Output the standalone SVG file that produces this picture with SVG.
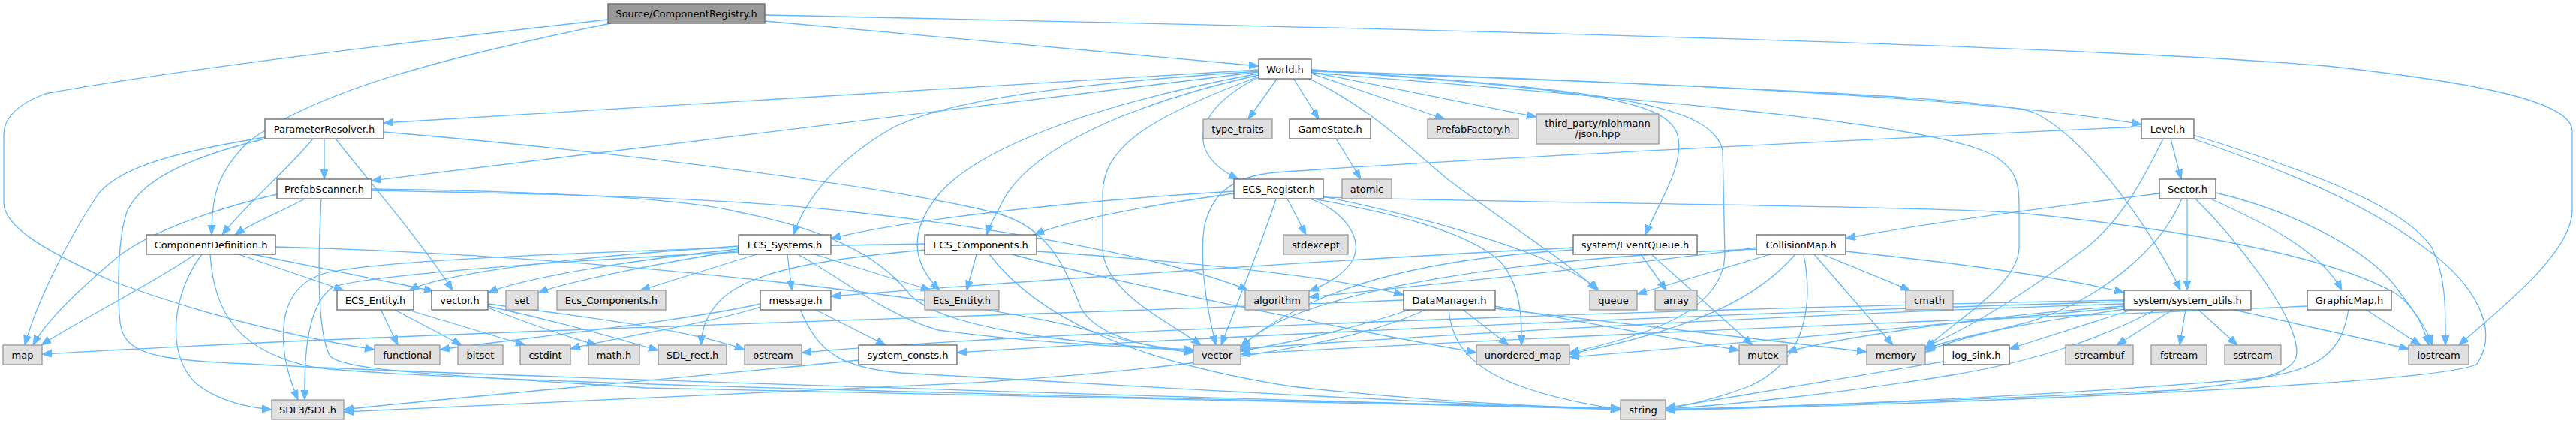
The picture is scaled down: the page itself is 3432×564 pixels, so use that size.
<svg xmlns="http://www.w3.org/2000/svg" width="3432" height="564" viewBox="0 0 3432 564">
<style>
.n rect{fill:#ffffff;stroke:#666666;stroke-width:1.3}
.g rect{fill:#e0e0e0;stroke:#999999;stroke-width:1.3}
.r rect{fill:#999999;stroke:#666666;stroke-width:1.3}
text{font-family:"DejaVu Sans","Liberation Sans",sans-serif;font-size:13px;fill:#000000;text-anchor:middle}
.e path{fill:none;stroke:#63b8ff;stroke-width:1.3;marker-end:url(#ah)}
</style>
<defs>
<marker id="ah" markerUnits="userSpaceOnUse" markerWidth="14" markerHeight="12" refX="13" refY="5" orient="auto">
<path d="M0,0 L13,5 L0,10 z" fill="#63b8ff" stroke="#63b8ff" stroke-width="1"/>
</marker>
</defs>
<rect x="0" y="0" width="3432" height="564" fill="#ffffff"/>
<g id="edges" class="e">
<path d="M1019,28 L1677,88"/>
<path d="M1019,20 C1500,30 2700,55 3100,88 C3300,110 3427,135 3427,175 L3427,280 C3427,340 3320,420 3276,460"/>
<path d="M810,26 C600,50 250,90 60,125 C20,140 5,160 5,180 L5,270 C5,300 50,330 150,375 C300,430 430,455 499,466"/>
<path d="M814,31 C600,75 420,120 330,190 C290,230 282,260 282,313"/>
<path d="M1677,93 L511,164"/>
<path d="M1677,96 L495,241"/>
<path d="M1677,95 C1450,110 1270,130 1190,170 C1120,210 1075,260 1057,313"/>
<path d="M1677,98 C1450,140 1300,200 1250,260 C1210,310 1215,350 1252,387"/>
<path d="M1677,100 C1500,140 1370,200 1335,270 C1325,290 1318,300 1315,313"/>
<path d="M1677,102 C1520,160 1469,200 1469,260 L1469,330 C1469,390 1560,430 1600,460"/>
<path d="M1702,104 L1663,159"/>
<path d="M1677,103 C1600,140 1570,200 1650,239"/>
<path d="M1723,104 L1757,159"/>
<path d="M1742,104 C1820,140 1870,190 1930,240 C2010,300 2090,350 2128,387"/>
<path d="M1747,98 L1925,159"/>
<path d="M1747,96 L2047,156"/>
<path d="M1747,93 C2100,120 2220,130 2235,180 C2245,220 2210,270 2192,313"/>
<path d="M1747,93 C2150,120 2280,140 2295,200 L2298,340 C2295,420 2180,450 2091,470"/>
<path d="M1747,94 C2200,110 2650,130 2853,166"/>
<path d="M1747,95 C2300,115 2650,130 2710,150 C2790,190 2880,330 2905,387"/>
<path d="M1747,97 C2300,140 2600,170 2660,210 C2690,230 2690,250 2690,280 L2690,330 C2690,380 2600,430 2565,465"/>
<path d="M432,185 L432,239"/>
<path d="M417,185 C380,230 330,270 296,313"/>
<path d="M353,183 C250,200 160,220 130,260 C90,320 50,400 33,460"/>
<path d="M353,185 C250,210 190,240 170,280 C155,320 157,400 160,430 C165,470 200,480 330,485 C600,500 1600,530 2159,546"/>
<path d="M447,185 C490,240 560,320 603,387"/>
<path d="M511,176 C800,200 1200,250 1330,285 C1400,305 1420,360 1440,410 C1460,450 1540,465 1590,470"/>
<path d="M406,265 C380,280 340,295 313,313"/>
<path d="M369,259 C280,280 200,310 160,340 C100,390 60,430 44,460"/>
<path d="M428,265 C425,320 420,440 440,475 C460,495 600,500 860,517 C1400,530 1900,540 2159,545"/>
<path d="M495,254 C700,258 950,262 1130,282 C1300,300 1550,340 1663,387"/>
<path d="M495,252 C700,255 900,262 980,282 C1100,305 1170,340 1210,390 C1250,440 1450,460 1590,466"/>
<path d="M1780,185 L1813,239"/>
<path d="M260,339 C200,380 100,430 55,460"/>
<path d="M269,339 C230,390 220,470 260,510 C290,535 330,543 362,546"/>
<path d="M280,339 C285,420 320,470 420,490 C600,510 1500,530 2159,544"/>
<path d="M318,339 L458,387"/>
<path d="M337,339 L578,388"/>
<path d="M367,329 C800,340 1300,400 1450,440 C1500,455 1550,465 1590,468"/>
<path d="M2892,185 L2906,239"/>
<path d="M2853,169 C2500,185 1900,215 1700,230 C1640,235 1615,260 1605,300 C1598,340 1605,400 1620,460"/>
<path d="M2882,185 C2860,230 2830,290 2780,330 C2700,390 2620,440 2565,462"/>
<path d="M2922,180 C3050,220 3200,270 3240,330 C3260,370 3258,420 3258,460"/>
<path d="M2922,185 C3050,230 3150,270 3230,330 C3300,380 3330,440 3300,485 C3260,510 2700,535 2219,547"/>
<path d="M1644,255 C1400,270 1200,295 1107,318"/>
<path d="M1644,258 C1520,275 1420,295 1378,313"/>
<path d="M1715,265 L1740,313"/>
<path d="M1745,265 C1790,280 1820,320 1800,350 C1790,365 1770,378 1744,388"/>
<path d="M1763,262 C1900,290 2080,340 2130,387"/>
<path d="M1750,265 C1800,275 1950,300 2000,350 C2025,380 2028,420 2027,460"/>
<path d="M1700,265 C1690,300 1650,400 1627,460"/>
<path d="M1763,263 C2000,270 2600,275 2700,285 C2900,305 3100,340 3190,390 C3220,410 3230,440 3236,460"/>
<path d="M984,328 C800,340 600,360 545,387"/>
<path d="M984,332 C850,345 700,370 650,390"/>
<path d="M984,334 C880,350 760,375 717,390"/>
<path d="M1008,339 L853,387"/>
<path d="M1049,339 L1055,387"/>
<path d="M1085,339 L1240,387"/>
<path d="M984,336 C700,350 460,370 440,385 C410,410 405,470 406,533"/>
<path d="M1063,339 C1120,370 1180,420 1250,440 C1400,460 1520,462 1590,468"/>
<path d="M1232,333 C1100,345 1000,360 960,400 C940,420 935,440 934,460"/>
<path d="M1301,339 L1288,387"/>
<path d="M1318,339 C1380,420 1500,480 1720,515 C1900,535 2050,542 2159,545"/>
<path d="M1348,339 C1500,380 1800,440 1967,470"/>
<path d="M1381,335 C1600,350 1780,370 1870,393"/>
<path d="M1232,325 C900,330 500,345 430,365 C385,380 375,420 378,460 C380,490 390,515 397,533"/>
<path d="M1085,412 L1180,460"/>
<path d="M1066,412 C1090,470 1120,490 1200,497 C1600,520 1950,540 2159,545"/>
<path d="M1013,405 C900,430 700,450 586,466"/>
<path d="M1013,409 C950,430 820,450 760,465"/>
<path d="M650,410 C700,430 760,450 795,460"/>
<path d="M650,408 C750,430 820,450 877,467"/>
<path d="M650,405 C800,425 920,440 992,466"/>
<path d="M507,412 L530,460"/>
<path d="M524,412 L615,460"/>
<path d="M540,412 L700,460"/>
<path d="M1144,480 C900,505 600,530 458,546"/>
<path d="M1870,400 C1400,420 600,440 56,472"/>
<path d="M1948,412 L2010,460"/>
<path d="M1930,412 C1935,480 1990,520 2159,546"/>
<path d="M1991,408 L2317,467"/>
<path d="M1991,411 L2487,469"/>
<path d="M1901,412 C1800,460 1600,490 1300,510 C900,530 600,545 458,549"/>
<path d="M1880,412 C1800,440 1700,460 1653,468"/>
<path d="M2186,339 L2220,387"/>
<path d="M2200,339 L2335,460"/>
<path d="M2096,333 C1900,345 1750,380 1653,462"/>
<path d="M2096,330 C1800,345 1400,372 1107,395"/>
<path d="M2340,330 C2200,350 1900,380 1744,396"/>
<path d="M2359,339 L2181,392"/>
<path d="M2392,339 C2340,400 2250,440 2091,472"/>
<path d="M2403,339 C2415,400 2410,480 2330,515 C2290,530 2250,540 2219,545"/>
<path d="M2417,339 L2522,460"/>
<path d="M2428,339 L2545,387"/>
<path d="M2459,335 C2600,350 2750,370 2830,390"/>
<path d="M2340,332 C2000,345 1720,390 1653,464"/>
<path d="M2877,258 C2700,280 2550,300 2459,318"/>
<path d="M2914,265 L2914,387"/>
<path d="M2945,265 C3000,290 3090,330 3120,387"/>
<path d="M2952,257 C3050,280 3150,330 3190,380 C3220,420 3235,440 3240,460"/>
<path d="M2925,265 C2980,320 3060,420 3060,470 C3060,500 3000,510 2900,520 C2600,535 2350,542 2219,546"/>
<path d="M2907,265 C2880,330 2800,400 2700,430 C2620,450 2580,460 2565,470"/>
<path d="M3151,412 L3225,460"/>
<path d="M3129,412 C3120,470 3090,495 3000,505 C2700,530 2400,542 2219,546"/>
<path d="M3074,408 C2800,420 2200,440 1653,472"/>
<path d="M2843,412 L2677,465"/>
<path d="M2896,412 L2820,460"/>
<path d="M2912,412 L2904,460"/>
<path d="M2928,412 L2981,460"/>
<path d="M2972,412 L3209,465"/>
<path d="M2874,412 C2800,450 2720,480 2600,500 C2450,525 2300,540 2219,545"/>
<path d="M2830,405 C2500,415 2000,440 1653,465"/>
<path d="M2830,408 C2650,420 2450,450 2381,469"/>
<path d="M2832,412 C2700,430 2600,450 2565,466"/>
<path d="M2830,410 C2600,430 2300,460 2091,476"/>
<path d="M2830,400 C2300,410 1400,440 1068,470"/>
<path d="M2830,402 C2200,420 1500,455 1275,470"/>
<path d="M2589,482 C2450,505 2300,530 2219,544"/>
</g>
<g id="node_root" class="r"><rect x="810" y="5" width="209" height="26"/><text x="914.5" y="22.5">Source/ComponentRegistry.h</text></g>
<g id="node_world" class="n"><rect x="1677" y="79" width="70" height="26"/><text x="1712" y="96.5">World.h</text></g>
<g id="node_paramresolver" class="n"><rect x="353" y="159" width="158" height="26"/><text x="432" y="176.5">ParameterResolver.h</text></g>
<g id="node_type_traits" class="g"><rect x="1603" y="159" width="92" height="26"/><text x="1649" y="176.5">type_traits</text></g>
<g id="node_gamestate" class="n"><rect x="1718" y="159" width="108" height="26"/><text x="1772" y="176.5">GameState.h</text></g>
<g id="node_prefabfactory" class="g"><rect x="1902" y="159" width="121" height="26"/><text x="1962.5" y="176.5">PrefabFactory.h</text></g>
<g id="node_json" class="g"><rect x="2047" y="152" width="163" height="40"/><text x="2128.5" y="168.5">third_party/nlohmann</text><text x="2128.5" y="183">/json.hpp</text></g>
<g id="node_level" class="n"><rect x="2853" y="159" width="70" height="26"/><text x="2888" y="176.5">Level.h</text></g>
<g id="node_prefabscanner" class="n"><rect x="369" y="239" width="126" height="26"/><text x="432" y="256.5">PrefabScanner.h</text></g>
<g id="node_ecs_register" class="n"><rect x="1644" y="239" width="119" height="26"/><text x="1703.5" y="256.5">ECS_Register.h</text></g>
<g id="node_atomic" class="g"><rect x="1788" y="239" width="66" height="26"/><text x="1821" y="256.5">atomic</text></g>
<g id="node_sector" class="n"><rect x="2877" y="239" width="75" height="26"/><text x="2914.5" y="256.5">Sector.h</text></g>
<g id="node_compdef" class="n"><rect x="195" y="313" width="172" height="26"/><text x="281" y="330.5">ComponentDefinition.h</text></g>
<g id="node_ecs_systems" class="n"><rect x="984" y="313" width="123" height="26"/><text x="1045.5" y="330.5">ECS_Systems.h</text></g>
<g id="node_ecs_components" class="n"><rect x="1232" y="313" width="149" height="26"/><text x="1306.5" y="330.5">ECS_Components.h</text></g>
<g id="node_stdexcept" class="g"><rect x="1710" y="313" width="86" height="26"/><text x="1753" y="330.5">stdexcept</text></g>
<g id="node_eventqueue" class="n"><rect x="2096" y="313" width="165" height="26"/><text x="2178.5" y="330.5">system/EventQueue.h</text></g>
<g id="node_collisionmap" class="n"><rect x="2340" y="313" width="119" height="26"/><text x="2399.5" y="330.5">CollisionMap.h</text></g>
<g id="node_ecs_entity_h" class="n"><rect x="449" y="387" width="102" height="26"/><text x="500" y="404.5">ECS_Entity.h</text></g>
<g id="node_vector_h" class="n"><rect x="575" y="387" width="75" height="26"/><text x="612.5" y="404.5">vector.h</text></g>
<g id="node_set" class="g"><rect x="674" y="387" width="43" height="26"/><text x="695.5" y="404.5">set</text></g>
<g id="node_ecs_components_lc" class="g"><rect x="742" y="387" width="145" height="26"/><text x="814.5" y="404.5">Ecs_Components.h</text></g>
<g id="node_message" class="n"><rect x="1013" y="387" width="94" height="26"/><text x="1060" y="404.5">message.h</text></g>
<g id="node_ecs_entity_lc" class="g"><rect x="1232" y="387" width="99" height="26"/><text x="1281.5" y="404.5">Ecs_Entity.h</text></g>
<g id="node_algorithm" class="g"><rect x="1659" y="387" width="85" height="26"/><text x="1701.5" y="404.5">algorithm</text></g>
<g id="node_datamanager" class="n"><rect x="1870" y="387" width="122" height="26"/><text x="1931" y="404.5">DataManager.h</text></g>
<g id="node_queue" class="g"><rect x="2118" y="387" width="63" height="26"/><text x="2149.5" y="404.5">queue</text></g>
<g id="node_array" class="g"><rect x="2205" y="387" width="56" height="26"/><text x="2233" y="404.5">array</text></g>
<g id="node_cmath" class="g"><rect x="2539" y="387" width="63" height="26"/><text x="2570.5" y="404.5">cmath</text></g>
<g id="node_system_utils" class="n"><rect x="2830" y="387" width="169" height="26"/><text x="2914.5" y="404.5">system/system_utils.h</text></g>
<g id="node_graphicmap" class="n"><rect x="3074" y="387" width="112" height="26"/><text x="3130" y="404.5">GraphicMap.h</text></g>
<g id="node_map" class="g"><rect x="4" y="460" width="52" height="26"/><text x="30" y="477.5">map</text></g>
<g id="node_functional" class="g"><rect x="499" y="460" width="87" height="26"/><text x="542.5" y="477.5">functional</text></g>
<g id="node_bitset" class="g"><rect x="610" y="460" width="60" height="26"/><text x="640" y="477.5">bitset</text></g>
<g id="node_cstdint" class="g"><rect x="693" y="460" width="67" height="26"/><text x="726.5" y="477.5">cstdint</text></g>
<g id="node_math_h" class="g"><rect x="784" y="460" width="68" height="26"/><text x="818" y="477.5">math.h</text></g>
<g id="node_sdl_rect" class="g"><rect x="877" y="460" width="91" height="26"/><text x="922.5" y="477.5">SDL_rect.h</text></g>
<g id="node_ostream" class="g"><rect x="992" y="460" width="76" height="26"/><text x="1030" y="477.5">ostream</text></g>
<g id="node_system_consts" class="n"><rect x="1144" y="460" width="131" height="26"/><text x="1209.5" y="477.5">system_consts.h</text></g>
<g id="node_vector" class="g"><rect x="1590" y="460" width="63" height="26"/><text x="1621.5" y="477.5">vector</text></g>
<g id="node_unordered_map" class="g"><rect x="1967" y="460" width="124" height="26"/><text x="2029" y="477.5">unordered_map</text></g>
<g id="node_mutex" class="g"><rect x="2317" y="460" width="64" height="26"/><text x="2349" y="477.5">mutex</text></g>
<g id="node_memory" class="g"><rect x="2487" y="460" width="78" height="26"/><text x="2526" y="477.5">memory</text></g>
<g id="node_log_sink" class="n"><rect x="2589" y="460" width="88" height="26"/><text x="2633" y="477.5">log_sink.h</text></g>
<g id="node_streambuf" class="g"><rect x="2752" y="460" width="90" height="26"/><text x="2797" y="477.5">streambuf</text></g>
<g id="node_fstream" class="g"><rect x="2866" y="460" width="74" height="26"/><text x="2903" y="477.5">fstream</text></g>
<g id="node_sstream" class="g"><rect x="2964" y="460" width="75" height="26"/><text x="3001.5" y="477.5">sstream</text></g>
<g id="node_iostream" class="g"><rect x="3209" y="460" width="80" height="26"/><text x="3249" y="477.5">iostream</text></g>
<g id="node_sdl" class="g"><rect x="362" y="533" width="96" height="26"/><text x="410" y="550.5">SDL3/SDL.h</text></g>
<g id="node_string" class="g"><rect x="2159" y="533" width="60" height="26"/><text x="2189" y="550.5">string</text></g>
</svg>
